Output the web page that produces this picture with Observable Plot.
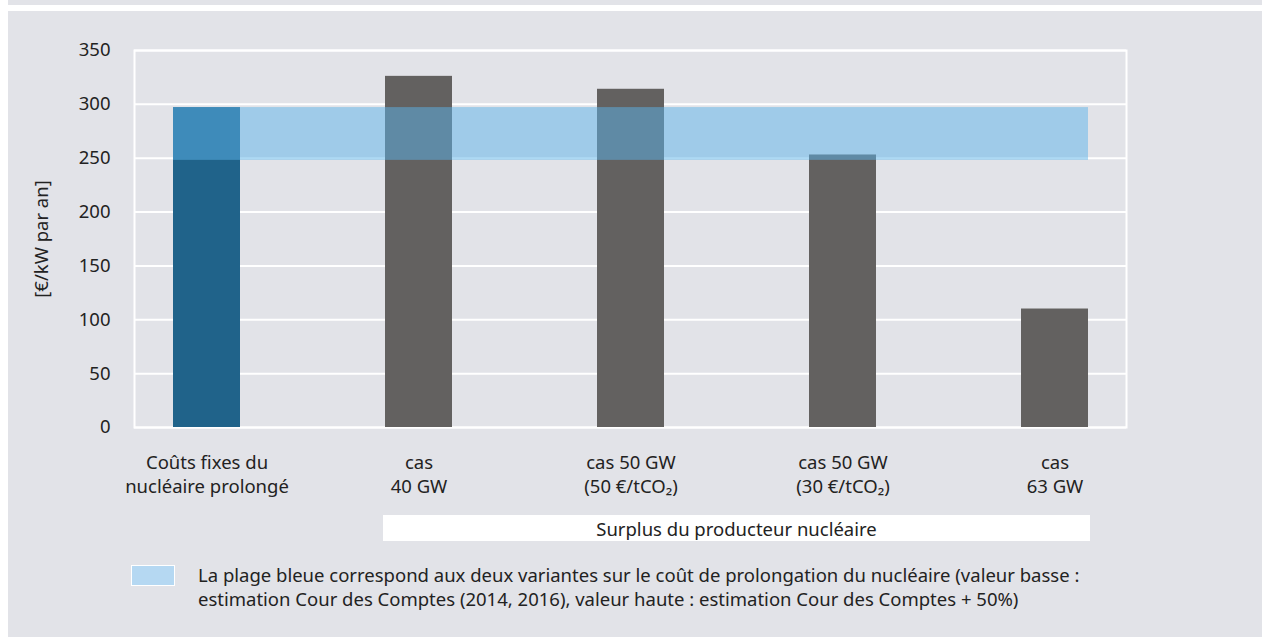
<!DOCTYPE html>
<html>
<head>
<meta charset="utf-8">
<script src="https://cdn.jsdelivr.net/npm/d3@7"></script>
<script src="https://cdn.jsdelivr.net/npm/@observablehq/plot@0.6"></script>
<style>
  html, body { margin: 0; padding: 0; background: #ffffff; width: 1262px; height: 637px; overflow: hidden; }
  body { position: relative; font-family: "Noto Sans", sans-serif; color: #222; }
  #strip { position: absolute; left: 8px; top: 0; width: 1254px; height: 5px; background: #e2e3e8; }
  #panel { position: absolute; left: 8px; top: 11px; width: 1254px; height: 626px; background: #e2e3e8; }
  #chart { position: absolute; left: 0; top: 0; }
  #surplus { position: absolute; top: 515px; height: 26px; background: #ffffff; font-size: 18.5px; line-height: 27px; text-align: center; color: #222; }
  #legend { position: absolute; left: 131px; top: 563px; font-size: 18.5px; line-height: 24px; color: #222; }
  #legend .sw { position: absolute; left: 0; top: 2px; width: 42px; height: 19px; background: #b5d8f2; border: 1px solid #ffffff; }
  #legend .txt { position: absolute; left: 67px; top: 0; white-space: nowrap; }
</style>
</head>
<body>
<div id="strip"></div>
<div id="panel"></div>
<div id="chart"></div>
<div id="surplus"></div>
<div id="legend"><div class="sw"></div><div class="txt"></div></div>
<script>
// ---- data ----
const categories = [
  "Coûts fixes du\nnucléaire prolongé",
  "cas\n40 GW",
  "cas 50 GW\n(50 €/tCO₂)",
  "cas 50 GW\n(30 €/tCO₂)",
  "cas\n63 GW"
];
const values = [297, 326, 314, 253, 110];
const barColors = ["#20638a", "#636160", "#636160", "#636160", "#636160"];
const bandRange = [248, 297];           // plage bleue (valeur basse, valeur haute)
const yTicks = [0, 50, 100, 150, 200, 250, 300, 350];
const yLabel = "[€/kW par an]";
const groupLabel = "Surplus du producteur nucléaire";
const groupCategories = [categories[1], categories[4]];
const legendText = "La plage bleue correspond aux deux variantes sur le coût de prolongation du nucléaire (valeur basse :\nestimation Cour des Comptes (2014, 2016), valeur haute : estimation Cour des Comptes + 50%)";

const bars = categories.map((c, i) => ({cat: c, value: values[i], color: barColors[i]}));
const band = [{x1: categories[0], x2: categories[categories.length - 1], y1: bandRange[0], y2: bandRange[1]}];

const font = "'Noto Sans', sans-serif";
const fs = 18.5;

const plot = Plot.plot({
  width: 1262,
  height: 510,
  marginTop: 50,
  marginBottom: 83,
  marginLeft: 134,
  marginRight: 136,
  style: {background: "transparent", fontFamily: font, fontSize: fs + "px", color: "#222"},
  x: {type: "band", domain: categories, paddingInner: 0.684, paddingOuter: 0.18},
  y: {domain: [0, 350]},
  marks: [
    Plot.gridY(yTicks, {stroke: "#ffffff", strokeOpacity: 1, strokeWidth: 2}),
    Plot.frame({stroke: "#ffffff", strokeWidth: 2}),
    Plot.barY(bars, {x: "cat", y: "value", fill: "color"}),
    Plot.rect(band, {x1: "x1", x2: "x2", y1: "y1", y2: "y2", fill: "rgb(91,179,234)", fillOpacity: 0.5}),
    Plot.axisY({ticks: yTicks, tickSize: 0, tickPadding: 24, fontSize: fs, fill: "#222",
      label: yLabel, labelAnchor: "center", labelArrow: "none", labelOffset: 100}),
    Plot.axisX({tickSize: 0, tickPadding: 24, fontSize: fs, lineHeight: 24 / fs, fill: "#222", label: null})
  ]
});
document.getElementById("chart").appendChild(plot);

// white group box under the four scenario bars, positioned with the plot's x scale
const xs = plot.scale("x");
const left = xs.apply(groupCategories[0]) - 2;
const right = xs.apply(groupCategories[1]) + xs.bandwidth + 2;
const box = document.getElementById("surplus");
box.style.left = left + "px";
box.style.width = (right - left) + "px";
box.textContent = groupLabel;

const lt = document.querySelector("#legend .txt");
lt.innerHTML = legendText.split("\n").join("<br>");
</script>
</body>
</html>
